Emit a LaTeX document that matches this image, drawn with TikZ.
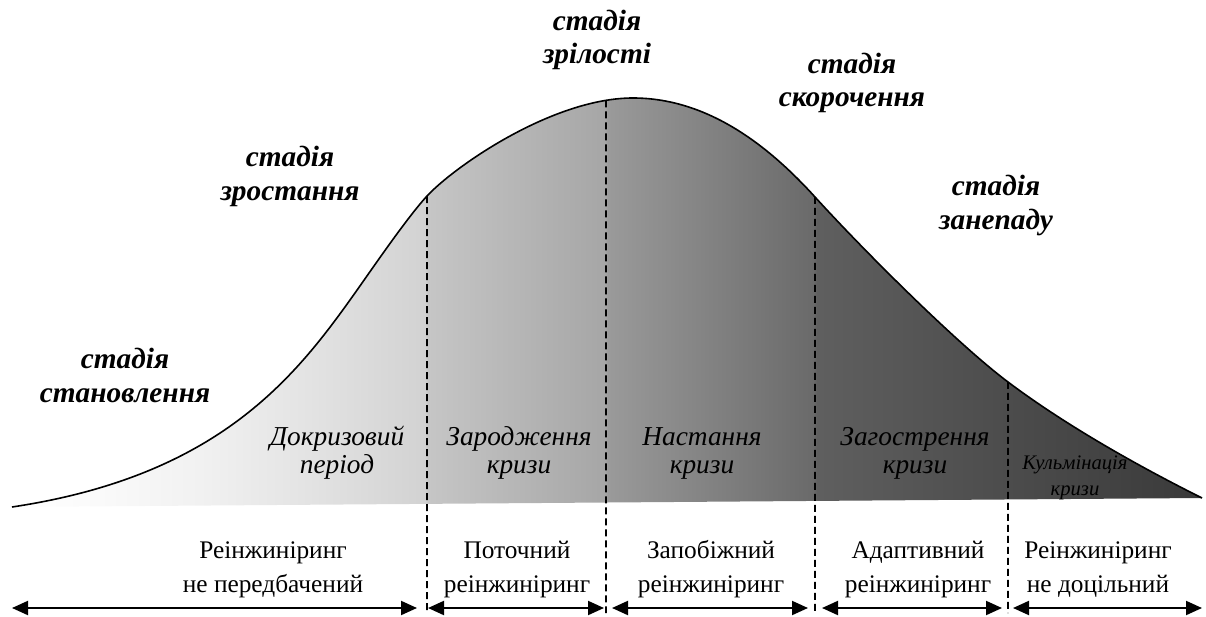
\documentclass[tikz,border=0pt]{standalone}
\usepackage{fontspec}
\setmainfont{Liberation Serif}
\usetikzlibrary{arrows.meta,intersections}

% grey levels of the fill under the curve, from left to right
\definecolor{g0}{gray}{1.000}
\definecolor{g1}{gray}{0.980}
\definecolor{g2}{gray}{0.945}
\definecolor{g3}{gray}{0.895}
\definecolor{g4}{gray}{0.824}
\definecolor{g5}{gray}{0.776}
\definecolor{g6}{gray}{0.651}
\definecolor{g7}{gray}{0.604}
\definecolor{g8}{gray}{0.416}
\definecolor{g9}{gray}{0.373}
\definecolor{g10}{gray}{0.298}
\definecolor{g11}{gray}{0.227}

% the inner 25bp..75bp band is stretched over the shaded box
\pgfdeclarehorizontalshading{lifecycle}{100bp}{%
  color(0bp)=(g0); color(25bp)=(g0); color(28.70bp)=(g1);
  color(32.90bp)=(g2); color(37.10bp)=(g3); color(42.35bp)=(g4);
  color(42.48bp)=(g5); color(49.92bp)=(g6); color(50.04bp)=(g7);
  color(58.66bp)=(g8); color(58.82bp)=(g9); color(66.81bp)=(g10);
  color(75bp)=(g11); color(100bp)=(g11)}

\begin{document}
\begin{tikzpicture}[x=0.75pt,y=-0.75pt,
  curve/.style={line width=1.2pt},
  divider/.style={line width=1.2pt, dash pattern=on 5.25pt off 3pt},
  span/.style={line width=1.5pt,
    {Triangle[length=12pt,width=10.5pt]}-{Triangle[length=12pt,width=10.5pt]}},
  stage/.style={font=\fontsize{22}{25}\selectfont\bfseries\itshape,
    align=center, anchor=base, inner sep=0pt},
  phase/.style={font=\fontsize{20.5}{21}\selectfont\itshape,
    align=center, anchor=base, inner sep=0pt},
  smallphase/.style={font=\fontsize{15.5}{19}\selectfont\itshape,
    align=center, anchor=base, inner sep=0pt},
  approach/.style={font=\fontsize{19}{25.5}\selectfont,
    align=center, anchor=base, inner sep=0pt}]

\useasboundingbox (0,0) rectangle (1206,617);

% life-cycle curve: rise, peak, fall
\def\lifecurve{(12,507)
  .. controls (212,477) and (290,384) .. (350,300)
  .. controls (368,275) and (405,220) .. (427,196)
  .. controls (455,166) and (553,98) .. (633,98)
  .. controls (713,98) and (775,153) .. (815,197)
  .. controls (865,252) and (958,344.5) .. (1008,382)
  .. controls (1068,427) and (1142,468) .. (1202,498)}

\begin{scope}
  \clip \lifecurve -- cycle;
  \shade[shading=lifecycle] (12,90) rectangle (1202,510);
\end{scope}
\draw[curve, name path=life] \lifecurve;

% phase boundaries, starting on the curve
\path[name path=v1] (427,0) -- (427,617);
\path[name path=v2] (606,0) -- (606,617);
\path[name path=v3] (815,0) -- (815,617);
\path[name path=v4] (1008,0) -- (1008,617);
\path[name intersections={of=life and v1, by=d1t}];
\path[name intersections={of=life and v2, by=d2t}];
\path[name intersections={of=life and v3, by=d3t}];
\path[name intersections={of=life and v4, by=d4t}];
\coordinate (d1b) at (427,613);
\coordinate (d2b) at (606,613);
\coordinate (d3b) at (815,613);
\coordinate (d4b) at (1008,613);
\draw[divider] (d1t) -- (d1b);
\draw[divider] (d2t) -- (d2b);
\draw[divider] (d3t) -- (d3b);
\draw[divider] (d4t) -- (d4b);

% spans of the reengineering approaches
\coordinate (a1) at (12,608);   \coordinate (b1) at (417,608);
\coordinate (a2) at (428,608);  \coordinate (b2) at (604,608);
\coordinate (a3) at (612,608);  \coordinate (b3) at (808,608);
\coordinate (a4) at (822,608);  \coordinate (b4) at (1002,608);
\coordinate (a5) at (1013,608); \coordinate (b5) at (1202,608);
\draw[span] (a1) -- (b1);
\draw[span] (a2) -- (b2);
\draw[span] (a3) -- (b3);
\draw[span] (a4) -- (b4);
\draw[span] (a5) -- (b5);

% stages (anchored at the baseline of the second line)
\node[stage] (st1) at (125,402) {стадія\\становлення};
\node[stage] (st2) at (290,200) {стадія\\зростання};
\node[stage] (st3) at (597,64)  {стадія\\зрілості};
\node[stage] (st4) at (852,107) {стадія\\скорочення};
\node[stage] (st5) at (996,229) {стадія\\занепаду};

% crisis phases
\node[phase] (ph1) at (337,473) {Докризовий\\період};
\node[phase] (ph2) at (519,473) {Зародження\\кризи};
\node[phase] (ph3) at (702,473) {Настання\\кризи};
\node[phase] (ph4) at (915,473) {Загострення\\кризи};
\node[smallphase] (ph5) at (1075,495) {Кульмінація\\кризи};

% reengineering approaches
\node[approach] (ap1) at (273,592)  {Реінжиніринг\\не передбачений};
\node[approach] (ap2) at (517,592)  {Поточний\\реінжиніринг};
\node[approach] (ap3) at (711,592)  {Запобіжний\\реінжиніринг};
\node[approach] (ap4) at (918,592)  {Адаптивний\\реінжиніринг};
\node[approach] (ap5) at (1098,592) {Реінжиніринг\\не доцільний};
\end{tikzpicture}
\end{document}
